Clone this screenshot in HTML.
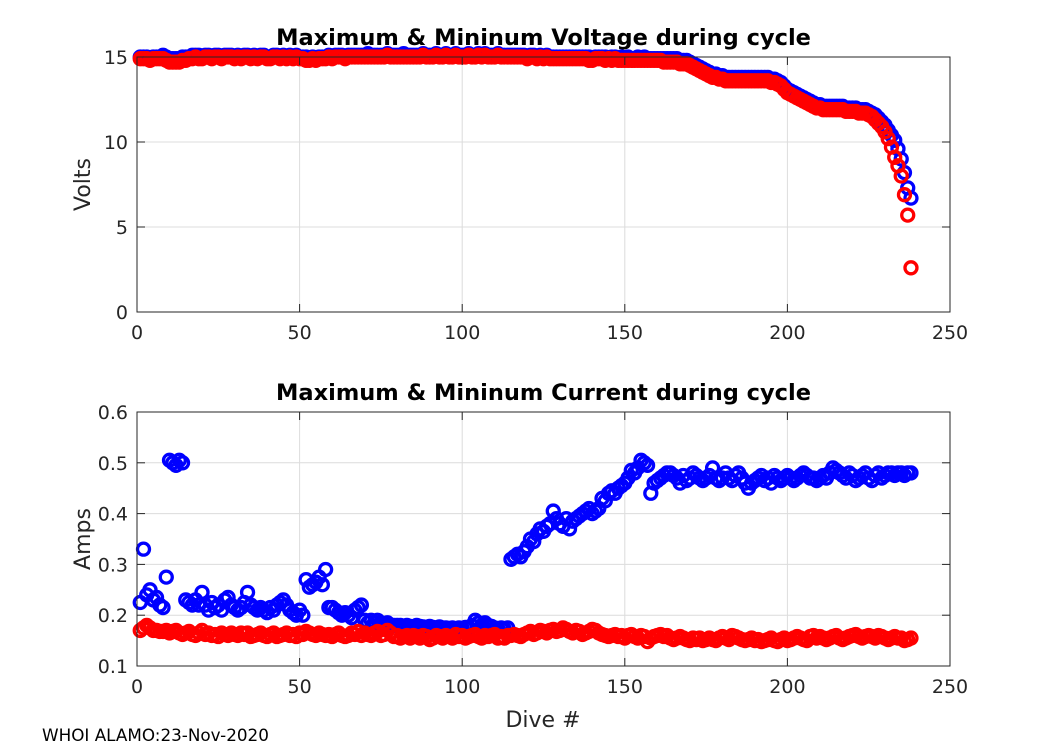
<!DOCTYPE html>
<html><head><meta charset="utf-8"><style>
body{margin:0;background:#fff;}
svg{display:block;font-family:"DejaVu Sans","Liberation Sans",sans-serif;}
</style></head><body>
<svg id="chart" width="1050" height="750" viewBox="0 0 1050 750"></svg>
<script>
const dives = Array.from({length:238},(_, i)=>i+1);
const voltMax = [
15.0,15.0,15.0,14.9,15.0,15.0,15.0,15.1,15.0,14.9,14.9,14.9,14.9,15.0,15.0,15.0,15.1,15.1,15.1,15.0,
15.1,15.1,15.0,15.1,15.1,15.0,15.1,15.1,15.1,15.0,15.1,15.0,15.1,15.1,15.0,15.1,15.0,15.1,15.1,15.0,
15.0,15.1,15.1,15.0,15.1,15.0,15.1,15.0,15.1,15.0,15.0,15.0,14.9,15.0,14.9,15.0,15.0,15.0,15.1,15.0,
15.1,15.1,15.1,15.0,15.1,15.1,15.1,15.1,15.1,15.1,15.2,15.1,15.1,15.1,15.1,15.1,15.2,15.1,15.1,15.1,
15.1,15.2,15.1,15.1,15.1,15.1,15.1,15.2,15.1,15.1,15.1,15.2,15.1,15.1,15.2,15.1,15.1,15.2,15.1,15.1,
15.1,15.2,15.1,15.1,15.2,15.1,15.2,15.1,15.1,15.1,15.2,15.1,15.1,15.1,15.1,15.1,15.1,15.1,15.1,15.0,
15.1,15.1,15.0,15.1,15.0,15.1,15.0,15.0,15.0,15.0,15.0,15.0,15.0,15.0,15.0,15.0,15.0,15.0,15.0,14.9,
15.0,15.0,15.0,15.0,14.9,15.0,15.0,14.9,15.0,14.9,15.0,14.9,14.9,
15.0,14.9,15.0,14.9,14.9,14.9,14.9,14.9,14.9,14.9,14.9,14.9,14.9,14.8,14.8,14.8,14.7,14.6,14.5,14.4,
14.3,14.2,14.1,14.0,14.0,13.9,13.9,13.8,13.8,13.8,13.8,13.8,13.8,13.8,13.8,13.8,13.8,13.8,13.8,13.8,
13.8,13.7,13.7,13.6,13.5,13.3,13.1,13.0,12.9,12.8,12.7,12.6,12.5,12.4,12.3,12.2,12.2,12.1,12.1,12.1,
12.1,12.1,12.1,12.1,12.0,12.0,12.0,12.0,11.9,11.9,11.9,11.8,11.7,11.6,11.4,11.2,11.0,10.7,10.4,10.1,
9.6,9.0,8.2,7.3,6.7];
const voltMin = [
14.9,14.9,14.9,14.8,14.9,14.9,14.9,14.9,14.8,14.7,14.7,14.7,14.7,14.8,14.8,14.9,14.9,15.0,14.9,14.9,
15.0,15.0,14.9,15.0,15.0,14.9,15.0,15.0,15.0,14.9,15.0,14.9,15.0,15.0,14.9,15.0,14.9,15.0,15.0,14.9,
14.9,15.0,15.0,14.9,15.0,14.9,15.0,14.9,15.0,14.9,14.9,14.8,14.8,14.9,14.8,14.9,14.9,14.9,15.0,14.9,
15.0,15.0,15.0,14.9,15.0,15.0,15.0,15.0,15.0,15.0,15.0,15.0,15.0,15.0,15.0,15.0,15.1,15.0,15.0,15.0,
15.0,15.0,15.0,15.0,15.0,15.0,15.0,15.1,15.0,15.0,15.0,15.1,15.0,15.0,15.1,15.0,15.0,15.1,15.0,15.0,
15.0,15.1,15.0,15.0,15.1,15.0,15.1,15.0,15.0,15.0,15.1,15.0,15.0,15.0,15.0,15.0,15.0,15.0,15.0,14.9,
15.0,15.0,14.9,15.0,14.9,15.0,14.9,14.9,14.9,14.9,14.9,14.9,14.9,14.9,14.9,14.9,14.9,14.9,14.8,14.8,
14.9,14.9,14.9,14.8,14.9,14.8,14.9,14.8,14.8,14.8,14.8,14.8,14.8,
14.8,14.8,14.8,14.8,14.8,14.8,14.8,14.8,14.7,14.7,14.7,14.7,14.7,14.6,14.6,14.6,14.5,14.4,14.3,14.2,
14.1,14.0,13.9,13.8,13.8,13.7,13.7,13.6,13.6,13.6,13.6,13.6,13.6,13.6,13.6,13.6,13.6,13.6,13.6,13.6,
13.6,13.5,13.5,13.4,13.3,13.1,12.9,12.8,12.7,12.6,12.5,12.4,12.3,12.2,12.1,12.0,12.0,11.9,11.9,11.9,
11.9,11.9,11.9,11.9,11.8,11.8,11.8,11.8,11.7,11.7,11.7,11.6,11.5,11.3,11.1,10.9,10.6,10.2,9.7,9.1,
8.6,8.0,6.9,5.7,2.6];
const curMax = [
0.225,0.33,0.24,0.25,0.23,0.235,0.22,0.215,0.275,0.505,0.50,0.495,0.505,0.50,0.23,0.225,0.22,0.23,0.22,0.245,
0.22,0.21,0.225,0.215,0.22,0.21,0.23,0.235,0.22,0.215,0.21,0.215,0.225,0.245,0.22,0.215,0.21,0.215,0.21,0.205,
0.215,0.21,0.22,0.225,0.23,0.22,0.21,0.205,0.20,0.21,0.20,0.27,0.255,0.26,0.265,0.275,0.26,0.29,0.215,0.215,
0.21,0.205,0.20,0.205,0.20,0.195,0.21,0.215,0.22,0.19,0.185,0.19,0.185,0.19,0.185,0.18,0.185,0.18,0.18,0.18,
0.18,0.178,0.18,0.178,0.177,0.18,0.178,0.177,0.175,0.178,0.176,0.175,0.177,0.175,0.175,0.174,0.175,0.173,0.175,0.174,
0.176,0.175,0.18,0.19,0.185,0.18,0.185,0.18,0.178,0.175,0.173,0.175,0.172,0.175,0.31,0.315,0.32,0.315,0.325,0.335,
0.35,0.345,0.36,0.37,0.365,0.375,0.38,0.405,0.39,0.38,0.375,0.39,0.37,0.385,0.39,0.395,0.40,0.405,0.41,0.40,
0.405,0.41,0.43,0.425,0.44,0.445,0.44,0.45,0.455,0.46,0.47,0.485,0.48,0.49,0.505,0.50,0.495,0.44,0.46,0.465,
0.47,0.475,0.48,0.48,0.475,0.47,0.46,0.475,0.465,0.47,0.48,0.475,0.47,0.465,0.47,0.475,0.49,0.47,0.465,0.47,
0.48,0.47,0.465,0.475,0.48,0.47,0.46,0.45,0.46,0.465,0.47,0.475,0.465,0.47,0.46,0.475,0.47,0.465,0.47,0.475,
0.47,0.465,0.47,0.475,0.48,0.475,0.47,0.47,0.465,0.47,0.475,0.47,0.48,0.49,0.485,0.48,0.475,0.47,0.48,0.475,
0.465,0.47,0.475,0.48,0.47,0.465,0.475,0.48,0.47,0.475,0.48,0.48,0.475,0.48,0.48,0.475,0.48,0.48];
const curMin = [
0.17,0.175,0.18,0.175,0.17,0.17,0.168,0.168,0.17,0.165,0.168,0.17,0.165,0.162,0.165,0.168,0.162,0.16,0.165,0.17,
0.162,0.165,0.16,0.162,0.158,0.165,0.162,0.16,0.165,0.162,0.16,0.165,0.162,0.165,0.158,0.16,0.162,0.165,0.16,0.158,
0.162,0.165,0.158,0.16,0.162,0.165,0.16,0.162,0.158,0.165,0.162,0.168,0.165,0.162,0.16,0.165,0.162,0.16,0.162,0.158,
0.162,0.165,0.16,0.158,0.16,0.165,0.162,0.168,0.16,0.165,0.162,0.16,0.165,0.168,0.16,0.162,0.17,0.165,0.158,0.16,
0.155,0.158,0.16,0.155,0.16,0.158,0.155,0.16,0.158,0.152,0.155,0.16,0.158,0.155,0.16,0.158,0.155,0.162,0.158,0.16,
0.155,0.158,0.16,0.162,0.158,0.155,0.16,0.158,0.16,0.162,0.155,0.158,0.155,0.16,0.16,0.162,0.16,0.158,0.162,0.165,
0.168,0.162,0.165,0.17,0.168,0.165,0.17,0.172,0.168,0.17,0.175,0.172,0.168,0.165,0.17,0.168,0.162,0.165,0.168,0.172,
0.17,0.165,0.162,0.16,0.158,0.16,0.162,0.158,0.16,0.155,0.16,0.162,0.158,0.155,0.16,0.158,0.148,0.155,0.158,0.16,
0.162,0.158,0.16,0.155,0.152,0.155,0.158,0.155,0.152,0.15,0.155,0.152,0.155,0.15,0.152,0.155,0.152,0.15,0.155,0.158,
0.155,0.152,0.16,0.158,0.155,0.152,0.15,0.152,0.155,0.15,0.152,0.148,0.15,0.152,0.155,0.15,0.148,0.152,0.155,0.15,
0.152,0.155,0.158,0.155,0.152,0.15,0.158,0.16,0.155,0.158,0.155,0.152,0.155,0.158,0.16,0.155,0.152,0.155,0.158,0.16,
0.162,0.158,0.155,0.158,0.16,0.158,0.155,0.16,0.158,0.155,0.152,0.155,0.158,0.155,0.155,0.15,0.152,0.155];
const xTicks = [0,50,100,150,200,250];
const voltTicks = [0,5,10,15];
const ampTicks = [0.1,0.2,0.3,0.4,0.5,0.6];
const ampTickLabels = ["0.1","0.2","0.3","0.4","0.5","0.6"];

const NS="http://www.w3.org/2000/svg";
const svg=document.getElementById('chart');
function mk(tag,attrs,parent){const e=document.createElementNS(NS,tag);for(const k in attrs)e.setAttribute(k,attrs[k]);(parent||svg).appendChild(e);return e;}
const L=137,R=950;
function xs(v){return L+(v-0)/(250-0)*(R-L);}
function panel(top,bot,ymin,ymax,yt,ytl,title,ylabel,series,name){
  const ys=v=>bot-(v-ymin)/(ymax-ymin)*(bot-top);
  const g=mk('g',{});
  
  
  mk('rect',{x:L,y:top,width:R-L,height:bot-top,fill:'#fff'},g);
  xTicks.forEach(t=>{const l=mk('line',{x1:xs(t),x2:xs(t),y1:top,y2:bot,stroke:'#dcdcdc','stroke-width':1},g);
    });
  yt.forEach(t=>{const l=mk('line',{x1:L,x2:R,y1:ys(t),y2:ys(t),stroke:'#dcdcdc','stroke-width':1},g);
    });
  series.forEach(s=>{
    const sg=mk('g',{fill:'none',stroke:s.color,'stroke-width':3.3},g);
    
    
    s.vals.forEach((v,i)=>{const c=mk('circle',{cx:xs(dives[i]),cy:ys(v),r:6},sg);
      
      });
  });
  const box=mk('rect',{x:L,y:top,width:R-L,height:bot-top,fill:'none',stroke:'#262626','stroke-width':1},g);
  
  xTicks.forEach(t=>{mk('line',{x1:xs(t),x2:xs(t),y1:bot,y2:bot-8,stroke:'#262626'},g);mk('line',{x1:xs(t),x2:xs(t),y1:top,y2:top+8,stroke:'#262626'},g);
    const tx=mk('text',{x:xs(t),y:bot+27,'text-anchor':'middle','font-size':19,fill:'#262626'},g);tx.textContent=t;
    });
  yt.forEach((t,i)=>{mk('line',{x1:L,x2:L+8,y1:ys(t),y2:ys(t),stroke:'#262626'},g);mk('line',{x1:R,x2:R-8,y1:ys(t),y2:ys(t),stroke:'#262626'},g);
    const tx=mk('text',{x:L-9,y:ys(t)+7,'text-anchor':'end','font-size':19,fill:'#262626'},g);tx.textContent=ytl[i];
    });
  const ti=mk('text',{x:(L+R)/2,y:top-12,'text-anchor':'middle','font-size':22.5,'font-weight':'bold',fill:'#000'},g);ti.textContent=title;
  
  const yl=mk('text',{x:0,y:0,'text-anchor':'middle','font-size':22,fill:'#262626',transform:`translate(90,${(top+bot)/2}) rotate(-90)`},g);yl.textContent=ylabel;
  
}
panel(57,312,0,15,voltTicks,voltTicks.map(String),'Maximum & Mininum Voltage during cycle','Volts',
  [{vals:voltMax,color:'#0000ff',name:'max-voltage-series'},{vals:voltMin,color:'#ff0000',name:'min-voltage-series'}],'voltage');
panel(412,666,0.1,0.6,ampTicks,ampTickLabels,'Maximum & Mininum Current during cycle','Amps',
  [{vals:curMax,color:'#0000ff',name:'max-current-series'},{vals:curMin,color:'#ff0000',name:'min-current-series'}],'current');
const xl=mk('text',{x:543,y:727,'text-anchor':'middle','font-size':22,fill:'#262626'});xl.textContent='Dive #';

const ft=mk('text',{x:42,y:741,'font-size':16.8,fill:'#000'});ft.textContent='WHOI ALAMO:23-Nov-2020';

</script>
</body></html>
